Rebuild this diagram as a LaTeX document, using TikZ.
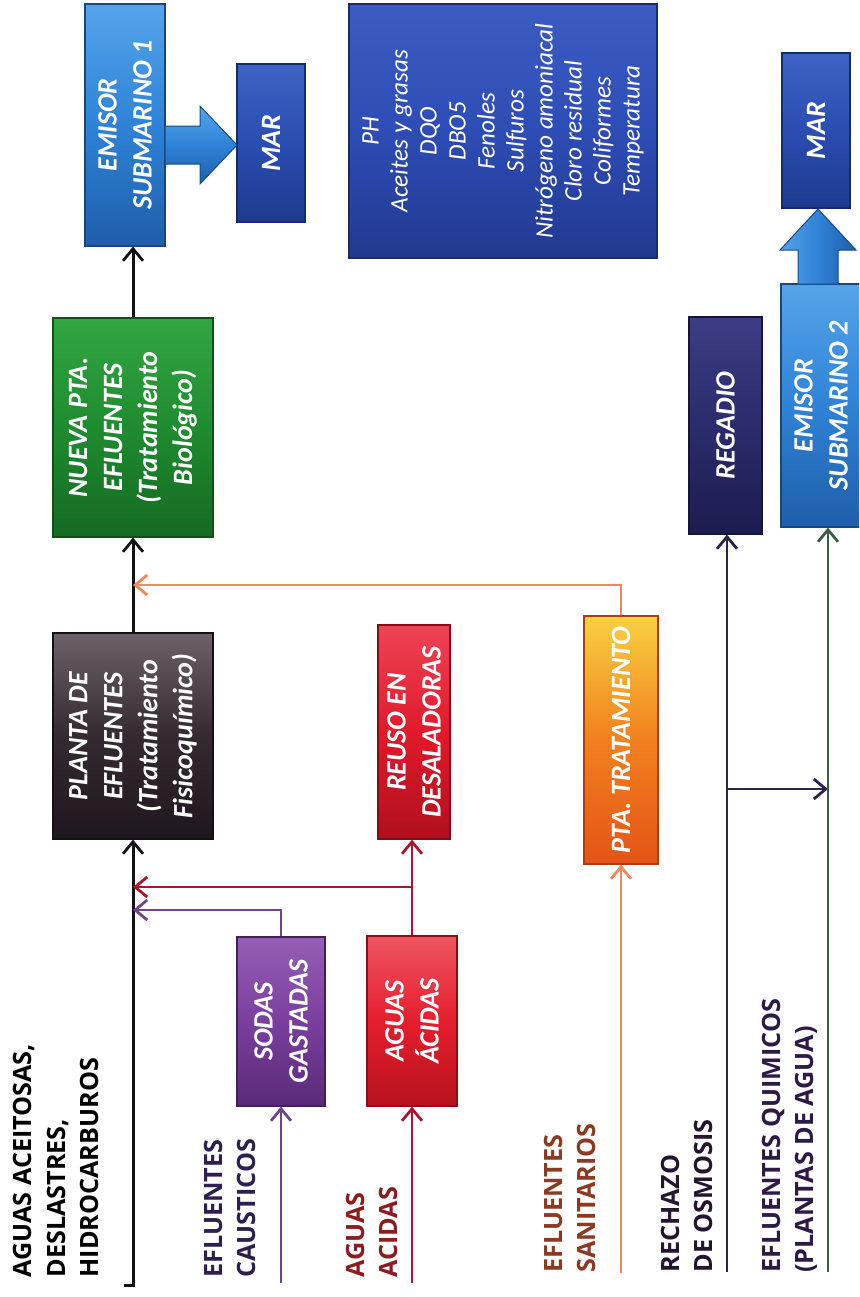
\documentclass[tikz,border=0pt]{standalone}
\usepackage{fontspec}
\setmainfont{Carlito}
\newfontfamily\labelfont{Open Sans}
\usetikzlibrary{arrows.meta}

% box fills: light edge / body / dark edge
\definecolor{emL}{HTML}{55A4EA}\definecolor{emM}{HTML}{2F82D6}\definecolor{emD}{HTML}{1F5EAA}
\definecolor{marL}{HTML}{3F62C4}\definecolor{marM}{HTML}{2B4DB2}\definecolor{marD}{HTML}{1E3A8E}
\definecolor{phL}{HTML}{3C5CC4}\definecolor{phM}{HTML}{2E4CB5}\definecolor{phD}{HTML}{22398F}
\definecolor{nuL}{HTML}{33A642}\definecolor{nuM}{HTML}{1F8B30}\definecolor{nuD}{HTML}{156A22}
\definecolor{plL}{HTML}{6E6169}\definecolor{plM}{HTML}{352A32}\definecolor{plD}{HTML}{1E161E}
\definecolor{reL}{HTML}{EE4455}\definecolor{reM}{HTML}{E01A2C}\definecolor{reD}{HTML}{B0101E}
\definecolor{ptL}{HTML}{F8D040}\definecolor{ptM}{HTML}{F2801E}\definecolor{ptD}{HTML}{E45416}
\definecolor{soL}{HTML}{965EB6}\definecolor{soM}{HTML}{7A3F9D}\definecolor{soD}{HTML}{5A2A78}
\definecolor{acL}{HTML}{F05562}\definecolor{acM}{HTML}{E51E2E}\definecolor{acD}{HTML}{B8121E}
\definecolor{rgL}{HTML}{3C3D84}\definecolor{rgM}{HTML}{2B2C6C}\definecolor{rgD}{HTML}{1C1C4E}
% flow lines
\definecolor{blkline}{HTML}{151015}
\definecolor{purline}{HTML}{6E4590}
\definecolor{redline}{HTML}{A8182C}
\definecolor{ornline}{HTML}{F08A5A}
\definecolor{navline}{HTML}{2A2350}
\definecolor{grnline}{HTML}{3A5E44}
% side labels
\definecolor{causC}{HTML}{2E1F4E}
\definecolor{acidC}{HTML}{8E1B1F}
\definecolor{saniC}{HTML}{8B3A24}
\definecolor{osmoC}{HTML}{24162E}
\definecolor{quimC}{HTML}{2D1B45}

\begin{document}
\begin{tikzpicture}[x=0.5pt,y=-0.5pt,
  box/.style={rotate=90, text=white, align=center, inner sep=1pt, line width=0.6pt,
    font=\fontsize{14}{17.5}\selectfont\bfseries\itshape},
  bevel/.style n args={3}{top color=#1, bottom color=#3, middle color=#2, draw=#3!75!black},
  lbl/.style={rotate=90, anchor=west, align=left, inner sep=0pt,
    font=\labelfont\bfseries\fontsize{12.6}{16.8}\selectfont},
  arr/.style={-{Straight Barb[length=6pt,width=10pt,line width=1.4pt]}},
  blk/.style={draw=blkline, line width=1.5pt},
  pur/.style={draw=purline, line width=1.2pt},
  redl/.style={draw=redline, line width=1.3pt},
  orn/.style={draw=ornline, line width=1.1pt},
  nav/.style={draw=navline, line width=1.3pt},
  grn/.style={draw=grnline, line width=1.2pt},
]
\fill[white] (0,0) rectangle (859,1297);
\useasboundingbox (0,0) rectangle (859,1297);
\clip (0,0) rectangle (859,1297);

% ---- process boxes
\node[box, bevel={emL}{emM}{emD}, minimum width=121pt, minimum height=40pt] (em1) at (125,125) {EMISOR\\SUBMARINO 1};
\node[box, bevel={marL}{marM}{marD}, minimum width=79pt, minimum height=34pt] (mar1) at (271,143) {MAR};
\node[box, bevel={phL}{phM}{phD}, minimum width=127pt, minimum height=154pt,
  font=\fontsize{12.6}{14.5}\selectfont\itshape] (ph) at (503,131)
  {PH\\Aceites y grasas\\DQO\\DBO5\\Fenoles\\Sulfuros\\Nitrógeno amoniacal\\Cloro residual\\Coliformes\\Temperatura};
\node[box, bevel={nuL}{nuM}{nuD}, minimum width=109.5pt, minimum height=80pt] (nueva) at (133,427.5)
  {NUEVA PTA.\\EFLUENTES\\(Tratamiento\\Biológico)};
\node[box, bevel={plL}{plM}{plD}, minimum width=103pt, minimum height=80pt] (planta) at (133,736)
  {PLANTA DE\\EFLUENTES\\(Tratamiento\\Fisicoquímico)};
\node[box, bevel={reL}{reM}{reD}, minimum width=107pt, minimum height=36pt] (reuso) at (414,732)
  {REUSO EN\\DESALADORAS};
\node[box, bevel={ptL}{ptM}{ptD}, minimum width=124pt, minimum height=37pt] (pta) at (621,740)
  {PTA. TRATAMIENTO};
\node[box, bevel={soL}{soM}{soD}, minimum width=84.5pt, minimum height=44pt] (sodas) at (281,1021.5)
  {SODAS\\GASTADAS};
\node[box, bevel={acL}{acM}{acD}, minimum width=85pt, minimum height=45pt] (acidas) at (412,1021)
  {AGUAS\\ÁCIDAS};
\node[box, bevel={rgL}{rgM}{rgD}, minimum width=108.5pt, minimum height=36.5pt] (regadio) at (725.5,425.5)
  {REGADIO};
\node[box, bevel={emL}{emM}{emD}, minimum width=121.5pt, minimum height=40pt] (em2) at (821,405.5)
  {EMISOR\\SUBMARINO 2};
\node[box, bevel={marL}{marM}{marD}, minimum width=77.5pt, minimum height=34pt] (mar2) at (816,130.5) {MAR};

% ---- wide discharge arrows into the sea
\path[top color=emL, bottom color=emD, middle color=emM, draw=emD!80!black, line width=0.5pt]
  (165,126) -- (200,126) -- (200,106) -- (237,145) -- (200,184) -- (200,164) -- (165,164) -- cycle;
\path[left color=emL, right color=emD, middle color=emM, draw=emD!80!black, line width=0.5pt]
  (798,284) -- (798,250) -- (780,250) -- (818,209) -- (856,250) -- (838,250) -- (838,284) -- cycle;

% ---- side labels
\node[lbl, text=black] (lAce) at (56,1278) {AGUAS ACEITOSAS,\\DESLASTRES,\\HIDROCARBUROS};
\node[lbl, text=causC] (lCau) at (230,1278) {EFLUENTES\\CAUSTICOS};
\node[lbl, text=acidC] (lAci) at (372,1278) {AGUAS\\ACIDAS};
\node[lbl, text=saniC] (lSan) at (570,1273) {EFLUENTES\\SANITARIOS};
\node[lbl, text=osmoC] (lOsm) at (687,1273) {RECHAZO\\DE OSMOSIS};
\node[lbl, text=quimC] (lQui) at (790,1273) {EFLUENTES QUIMICOS\\(PLANTAS DE AGUA)};

% ---- flow start points and junctions
\coordinate (s1) at (124,1285);
\coordinate (s2) at (281,1283);
\coordinate (s3) at (412,1283);
\coordinate (s4) at (621,1273);
\coordinate (s5) at (727,1272);
\coordinate (s6) at (828,1272);
\coordinate (oj) at (133,585);
\coordinate (rj) at (133,887);
\coordinate (pj) at (133,910);
\coordinate (nj) at (727,789);
\coordinate (gj) at (828,789);

% ---- main line
\draw[blk, arr] (s1) -| (planta.west);
\draw[blk, arr] (planta.east) -- (nueva.west);
\draw[blk, arr] (nueva.east) -- (nueva.east |- em1.west);

% ---- caustic, acid and sanitary streams
\draw[pur, arr] (s2) -- (sodas.west);
\draw[pur, arr] (sodas.east) |- (pj);
\draw[redl, arr] (s3) -- (acidas.west);
\draw[redl, arr] (acidas.east) -- (acidas.east |- reuso.west);
\draw[redl, arr] (acidas.east |- rj) -- (rj);
\draw[orn, arr] (s4) -- (pta.west);
\draw[orn, arr] (pta.east) |- (oj);

% ---- osmosis reject and water plant effluents
\draw[nav, arr] (s5) -- (s5 |- regadio.west);
\draw[nav, arr] (nj) -- (gj);
\draw[grn, arr] (s6) -- (s6 |- em2.west);
\end{tikzpicture}
\end{document}
